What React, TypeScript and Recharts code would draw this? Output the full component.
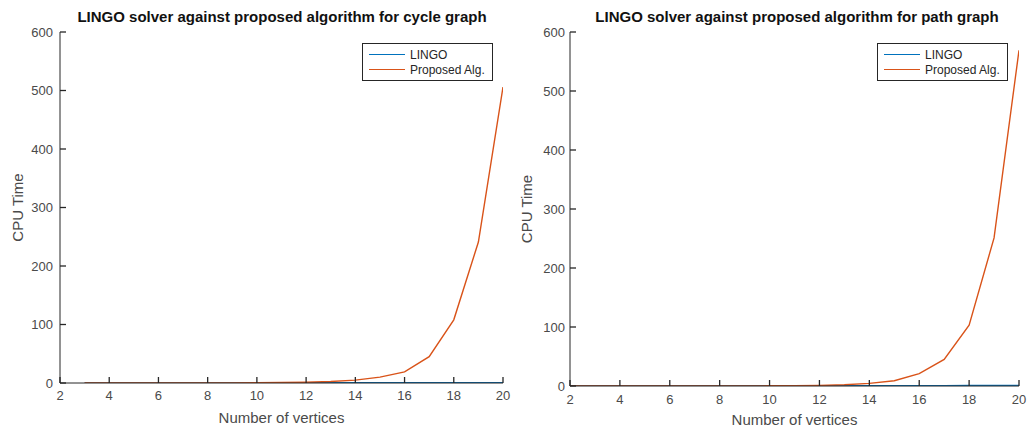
import { LineChart, Line, XAxis, YAxis, Legend } from 'recharts'

const xTicks = [2, 4, 6, 8, 10, 12, 14, 16, 18, 20]
const yTicks = [0, 100, 200, 300, 400, 500, 600]

const cycleVertices = [3, 4, 5, 6, 7, 8, 9, 10, 11, 12, 13, 14, 15, 16, 17, 18, 19, 20]
const cycleLingo = [0.2, 0.2, 0.2, 0.2, 0.2, 0.3, 0.3, 0.3, 0.3, 0.4, 0.4, 0.4, 0.5, 0.5, 0.5, 0.6, 0.6, 0.7]
const cycleProposed = [0.1, 0.1, 0.1, 0.1, 0.2, 0.2, 0.3, 0.5, 0.8, 1.2, 2.5, 5, 10, 19, 45, 108, 241, 506]

const pathVertices = [2, 3, 4, 5, 6, 7, 8, 9, 10, 11, 12, 13, 14, 15, 16, 17, 18, 19, 20]
const pathLingo = [0.3, 0.3, 0.3, 0.3, 0.4, 0.4, 0.4, 0.5, 0.5, 0.5, 0.6, 0.6, 0.6, 0.7, 0.7, 0.7, 0.8, 0.8, 0.9]
const pathProposed = [0, 0, 0, 0, 0, 0.1, 0.1, 0.2, 0.3, 0.5, 1, 2, 4.5, 9, 21, 45, 103, 251, 569]

const BLUE = '#0072BD'
const ORANGE = '#D95319'
const AXIS = '#262626'
const TEXT = '#4a4a4a'
const FONT = '"Liberation Sans", Arial, Helvetica, sans-serif'
const TICK_LEN = 6

type Side = 'bottom' | 'left' | 'top' | 'right'

// MATLAB-style inward ticks: draws the tick mark itself and (optionally) the label
function makeTick(side: Side, gap: number) {
  return (props: any) => {
    const { x, y, payload } = props
    if (side === 'bottom') {
      const y0 = y - gap
      return (
        <g>
          <line x1={x} y1={y0} x2={x} y2={y0 - TICK_LEN} stroke={AXIS} strokeWidth={1.3} />
          <text x={x} y={y} dy="0.71em" textAnchor="middle" fontSize={13} fill={TEXT} fontFamily={FONT}>
            {payload.value}
          </text>
        </g>
      )
    }
    if (side === 'left') {
      const x0 = x + gap
      return (
        <g>
          <line x1={x0} y1={y} x2={x0 + TICK_LEN} y2={y} stroke={AXIS} strokeWidth={1.3} />
          <text x={x} y={y} dy="0.355em" textAnchor="end" fontSize={13} fill={TEXT} fontFamily={FONT}>
            {payload.value}
          </text>
        </g>
      )
    }
    if (side === 'top') {
      return <line x1={x} y1={y} x2={x} y2={y + TICK_LEN} stroke={AXIS} strokeWidth={1.3} />
    }
    return <line x1={x} y1={y} x2={x - TICK_LEN} y2={y} stroke={AXIS} strokeWidth={1.3} />
  }
}

interface PanelProps {
  title: string
  vertices: number[]
  lingo: number[]
  proposed: number[]
  left: number
  width: number
  margin: { top: number; right: number; bottom: number; left: number }
  yAxisWidth: number
  xAxisHeight: number
  xTickGap: number
  yTickGap: number
  yLabelOffset: number
  xLabelOffset: number
  titleCenter: number
  legendPos: { left: number; top: number }
}

function LegendBox() {
  const items = [
    { name: 'LINGO', color: BLUE },
    { name: 'Proposed Alg.', color: ORANGE },
  ]
  return (
    <div
      style={{
        border: '1.5px solid #262626',
        background: '#fff',
        padding: '3px 6px 3px 6px',
        fontFamily: FONT,
        fontSize: 12,
        color: '#262626',
        whiteSpace: 'nowrap',
        width: 117,
      }}
    >
      {items.map((it) => (
        <div key={it.name} style={{ display: 'flex', alignItems: 'center', height: 15 }}>
          <div style={{ width: 36, height: 0, borderTop: `1.3px solid ${it.color}`, marginRight: 5, flexShrink: 0 }} />
          <span>{it.name}</span>
        </div>
      ))}
    </div>
  )
}

function Panel(p: PanelProps) {
  const data = p.vertices.map((n, i) => ({ n, lingo: p.lingo[i], proposed: p.proposed[i] }))
  const labelStyle = { fontSize: 15, fill: TEXT, fontFamily: FONT }
  return (
    <div style={{ position: 'absolute', left: p.left, top: 0, width: p.width, height: 428 }}>
      <div
        style={{
          position: 'absolute',
          left: p.titleCenter - 250,
          width: 500,
          top: 8,
          textAlign: 'center',
          fontFamily: FONT,
          fontWeight: 'bold',
          fontSize: 15,
          color: '#111',
          whiteSpace: 'nowrap',
        }}
      >
        {p.title}
      </div>
      <LineChart width={p.width} height={428} data={data} margin={p.margin}>
        <XAxis
          dataKey="n"
          type="number"
          domain={[2, 20]}
          ticks={xTicks}
          allowDataOverflow
          stroke={AXIS}
          tickLine={false}
          tickSize={0}
          tickMargin={p.xTickGap}
          tick={makeTick('bottom', p.xTickGap)}
          height={p.xAxisHeight}
          label={{ value: 'Number of vertices', position: 'insideBottom', offset: p.xLabelOffset, style: labelStyle }}
        />
        <XAxis
          xAxisId="top"
          orientation="top"
          dataKey="n"
          type="number"
          domain={[2, 20]}
          ticks={xTicks}
          allowDataOverflow
          stroke={AXIS}
          tickLine={false}
          tickSize={0}
          tickMargin={0}
          tick={makeTick('top', 0)}
          height={0}
        />
        <YAxis
          type="number"
          domain={[0, 600]}
          ticks={yTicks}
          allowDataOverflow
          stroke={AXIS}
          tickLine={false}
          tickSize={0}
          tickMargin={p.yTickGap}
          tick={makeTick('left', p.yTickGap)}
          width={p.yAxisWidth}
          label={{
            value: 'CPU Time',
            angle: -90,
            position: 'insideLeft',
            offset: p.yLabelOffset,
            style: { ...labelStyle, textAnchor: 'middle' },
          }}
        />
        <YAxis
          yAxisId="right"
          orientation="right"
          type="number"
          domain={[0, 600]}
          ticks={yTicks}
          allowDataOverflow
          stroke={AXIS}
          tickLine={false}
          tickSize={0}
          tickMargin={0}
          tick={makeTick('right', 0)}
          width={0}
        />
        <Legend
          layout="horizontal"
          verticalAlign="middle"
          align="center"
          content={() => <LegendBox />}
          wrapperStyle={{ left: p.legendPos.left, top: p.legendPos.top, width: 'auto', right: 'auto', bottom: 'auto' }}
        />
        <Line type="linear" dataKey="lingo" stroke={BLUE} strokeWidth={1.4} dot={false} isAnimationActive={false} />
        <Line type="linear" dataKey="proposed" stroke={ORANGE} strokeWidth={1.4} dot={false} isAnimationActive={false} />
      </LineChart>
    </div>
  )
}

export default function App() {
  return (
    <div style={{ position: 'absolute', left: 0, top: 0, width: 1029, height: 428, background: '#fff' }}>
      <Panel
        title="LINGO solver against proposed algorithm for cycle graph"
        vertices={cycleVertices}
        lingo={cycleLingo}
        proposed={cycleProposed}
        left={0}
        width={515}
        margin={{ top: 32, right: 12, bottom: 0, left: 13 }}
        yAxisWidth={47}
        xAxisHeight={45}
        xTickGap={8}
        yTickGap={7}
        yLabelOffset={5}
        xLabelOffset={5}
        titleCenter={282}
        legendPos={{ left: 362, top: 43 }}
      />
      <Panel
        title="LINGO solver against proposed algorithm for path graph"
        vertices={pathVertices}
        lingo={pathLingo}
        proposed={pathProposed}
        left={515}
        width={514}
        margin={{ top: 32, right: 10, bottom: 0, left: 7 }}
        yAxisWidth={48}
        xAxisHeight={42}
        xTickGap={9}
        yTickGap={5}
        yLabelOffset={5}
        xLabelOffset={3}
        titleCenter={282}
        legendPos={{ left: 362, top: 43 }}
      />
    </div>
  )
}
